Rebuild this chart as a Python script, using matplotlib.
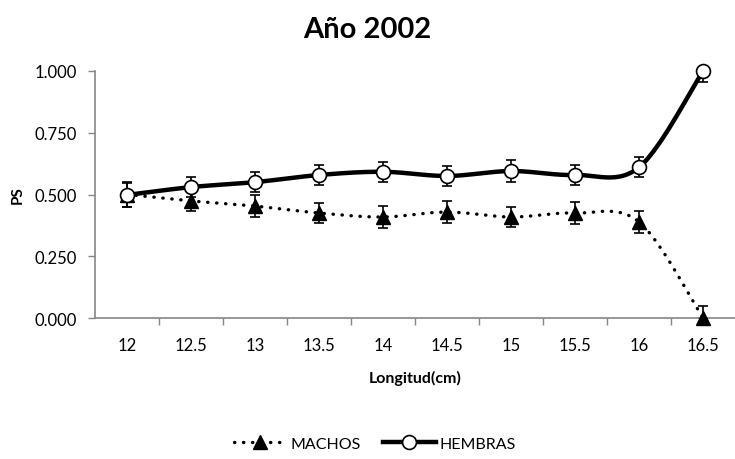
import numpy as np
import matplotlib
matplotlib.use('Agg')
import matplotlib.pyplot as plt

# Data ########################################################################

longitud = ['12', '12.5', '13', '13.5', '14', '14.5', '15', '15.5', '16', '16.5']
machos = [0.500, 0.474, 0.453, 0.425, 0.409, 0.429, 0.409, 0.425, 0.389, 0.000]
hembras = [0.498, 0.530, 0.550, 0.579, 0.592, 0.575, 0.595, 0.579, 0.610, 1.000]
machos_err = [0.05, 0.04, 0.045, 0.04, 0.045, 0.045, 0.04, 0.045, 0.045, 0.05]
hembras_err = [0.05, 0.04, 0.04, 0.04, 0.04, 0.04, 0.045, 0.04, 0.04, 0.045]

plt.rcParams['font.family'] = ['Lato', 'DejaVu Sans']


def smooth(y, n=30):
    """Excel-style smoothed line (Bezier through the points)."""
    x = np.arange(len(y), dtype=float)
    y = np.asarray(y, dtype=float)
    xs, ys = [], []
    t = np.linspace(0, 1, n)
    for i in range(len(y) - 1):
        p0 = np.array([x[i], y[i]])
        p3 = np.array([x[i + 1], y[i + 1]])
        prev = np.array([x[i - 1], y[i - 1]]) if i > 0 else p0
        nxt = np.array([x[i + 2], y[i + 2]]) if i + 2 < len(y) else p3
        p1 = p0 + (p3 - prev) / 6
        p2 = p3 - (nxt - p0) / 6
        pts = ((1 - t) ** 3)[:, None] * p0 + (3 * (1 - t) ** 2 * t)[:, None] * p1 \
            + (3 * (1 - t) * t ** 2)[:, None] * p2 + (t ** 3)[:, None] * p3
        xs.extend(pts[:, 0])
        ys.extend(pts[:, 1])
    return xs, ys


fig = plt.figure(figsize=(7.35, 4.6), dpi=100)
ax = fig.add_axes([95 / 735, 1 - 319 / 460, 640 / 735, 247 / 460])

pos = np.arange(len(longitud))

# error bars (one-sided at the ends, like the original)
m_lo = list(machos_err); m_lo[-1] = 0
h_hi = list(hembras_err); h_hi[-1] = 0
ax.errorbar(pos, machos, yerr=[m_lo, machos_err], fmt='none', ecolor='black',
            elinewidth=1.2, capsize=3.5, capthick=1.2, zorder=2, clip_on=False)
ax.errorbar(pos, hembras, yerr=[hembras_err, h_hi], fmt='none', ecolor='black',
            elinewidth=1.2, capsize=3.5, capthick=1.2, zorder=2, clip_on=False)

# smoothed lines
xm, ym = smooth(machos)
ax.plot(xm, ym, color='black', lw=2.4, linestyle=(0, (0.1, 2.6)),
        dash_capstyle='round', zorder=1, clip_on=False)
xh, yh = smooth(hembras)
ax.plot(xh, yh, color='black', lw=3.2, solid_capstyle='round', zorder=1, clip_on=False)

# markers
ax.plot(pos, machos, linestyle='none', marker='^', markersize=10,
        color='black', zorder=3, clip_on=False)
ax.plot(pos, hembras, linestyle='none', marker='o', markersize=10,
        markerfacecolor='white', markeredgecolor='black', markeredgewidth=1.2,
        zorder=3, clip_on=False)

# legend proxies
h1, = ax.plot([], [], color='black', lw=2.4, linestyle=(0, (0.1, 2.6)),
              dash_capstyle='round', marker='^', markersize=10)
h2, = ax.plot([], [], color='black', lw=3.2, marker='o', markersize=10,
              markerfacecolor='white', markeredgewidth=1.2)
fig.legend([h1, h2], ['MACHOS', 'HEMBRAS'], loc='center', ncol=2,
           bbox_to_anchor=(0.51, 0.033), frameon=False, fontsize=11.5,
           handlelength=3.3, columnspacing=1.4, handletextpad=0.25)

# axes styling
ax.set_xlim(-0.5, len(longitud) - 0.5)
ax.set_ylim(0, 1)
ax.set_xticks(pos)
ax.set_xticklabels(longitud, fontsize=12)
ax.set_xticks(np.arange(0.5, len(longitud) - 0.5, 1), minor=True)
ax.tick_params(axis='x', which='major', length=0, pad=14)
ax.tick_params(axis='x', which='minor', length=5, color='#868686', width=1)
ax.set_yticks([0, 0.25, 0.5, 0.75, 1.0])
ax.set_yticklabels(['0.000', '0.250', '0.500', '0.750', '1.000'], fontsize=12)
ax.tick_params(axis='y', length=5, color='#868686', width=1, pad=8)
for s in ['top', 'right']:
    ax.spines[s].set_visible(False)
for s in ['left', 'bottom']:
    ax.spines[s].set_color('#868686')
    ax.spines[s].set_linewidth(1.2)

ax.set_xlabel('Longitud(cm)', fontsize=11.5, fontweight='bold')
ax.xaxis.set_label_coords(0.5, -0.212)
ax.set_ylabel('PS', fontsize=11, fontweight='bold')
ax.yaxis.set_label_coords(-0.109, 0.5)
fig.text(0.5, 0.935, 'Año 2002', ha='center', va='center',
         fontsize=21, fontweight='bold')

fig.savefig('out.png', dpi=100)
